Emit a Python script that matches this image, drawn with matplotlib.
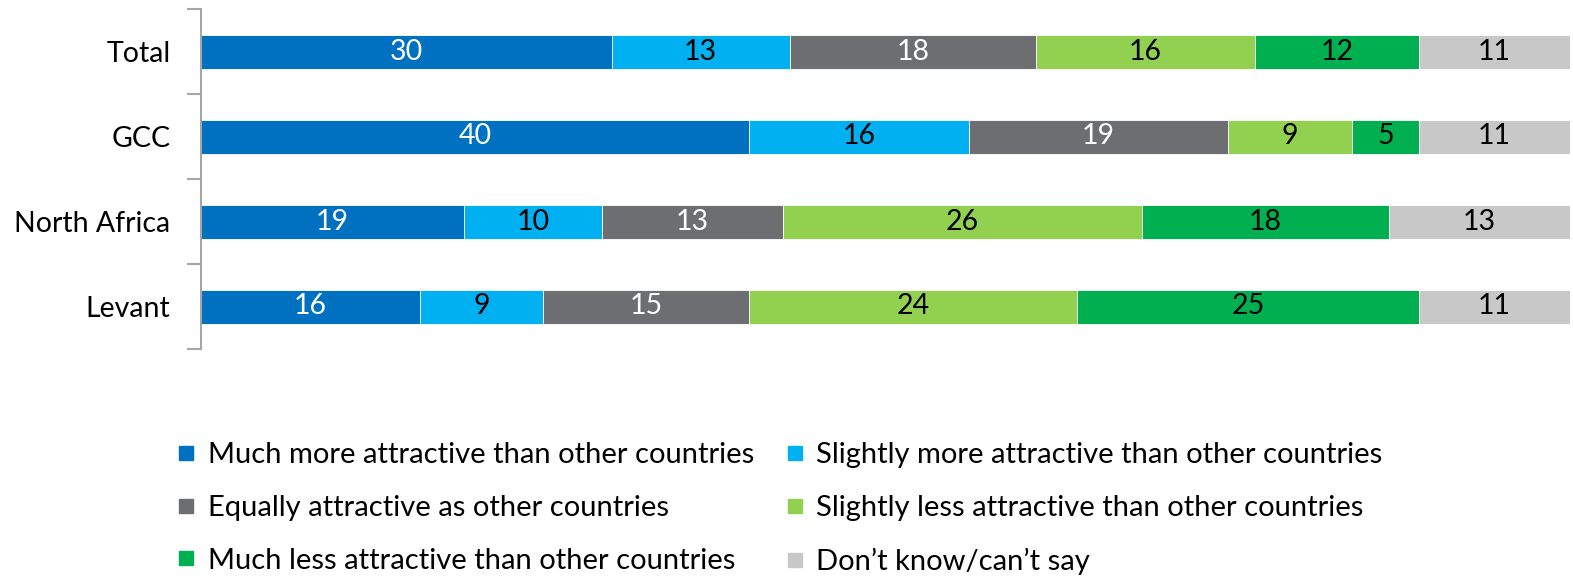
import matplotlib
matplotlib.use("Agg")
import matplotlib.pyplot as plt
import numpy as np
from matplotlib.lines import Line2D

plt.rcParams['font.family'] = ['Lato', 'DejaVu Sans']

regions = ['Total', 'GCC', 'North Africa', 'Levant']
series = ['Much more attractive than other countries',
          'Slightly more attractive than other countries',
          'Equally attractive as other countries',
          'Slightly less attractive than other countries',
          'Much less attractive than other countries',
          'Don\u2019t know/can\u2019t say']
much_more = [30, 40, 19.2, 16]
slightly_more = [13, 16.1, 10.1, 9]
equally = [18, 18.9, 13.2, 15]
slightly_less = [16, 9.1, 26.2, 24]
much_less = [12, 4.9, 18.1, 25]
dont_know = [11, 11, 13.2, 11]
values = [much_more, slightly_more, equally, slightly_less, much_less, dont_know]

colors = ['#0070C0', '#00B0F0', '#6D6E71', '#92D050', '#00B050', '#C8C8C8']
text_colors = ['white', 'black', 'white', 'black', 'black', 'black']

fig = plt.figure(figsize=(15.73, 5.77), dpi=100)
ax = fig.add_axes([201 / 1573, 1 - 349 / 577, 1369 / 1573, 340 / 577])

y = np.arange(len(regions))
left = np.zeros(len(regions))
for vals, col, tc in zip(values, colors, text_colors):
    vals = np.array(vals)
    ax.barh(y, vals, left=left, height=0.4, color=col, edgecolor='white', linewidth=0.6)
    for yi, l, v in zip(y, left, vals):
        ax.text(l + v / 2, yi, '%d' % round(v), ha='center', va='center',
                color=tc, fontsize=20.5)
    left += vals

ax.set_xlim(0, 100)
ax.set_ylim(3.5, -0.5)
ax.set_yticks(y)
ax.set_yticklabels(regions, fontsize=20.5)
ax.set_yticks(np.arange(-0.5, 4, 1), minor=True)
ax.tick_params(axis='y', which='major', length=0, pad=22)
ax.tick_params(axis='y', which='minor', length=10, width=1.5, color='#A6A6A6')
ax.set_xticks([])
for s in ['top', 'right', 'bottom']:
    ax.spines[s].set_visible(False)
ax.spines['left'].set_color('#A6A6A6')
ax.spines['left'].set_linewidth(1.5)

handles = [Line2D([], [], marker='s', linestyle='none', markersize=10,
                  markerfacecolor=c, markeredgecolor=c) for c in colors]
order = [0, 2, 4, 1, 3, 5]
fig.legend([handles[i] for i in order], [series[i] for i in order],
           ncol=2, loc='upper left', bbox_to_anchor=(174 / 1573, 1 - 442 / 577),
           frameon=False, fontsize=21, handlelength=0.8, handletextpad=0.35,
           columnspacing=1.0, labelspacing=0.92, borderaxespad=0, borderpad=0)

fig.savefig('out.png', dpi=100)
